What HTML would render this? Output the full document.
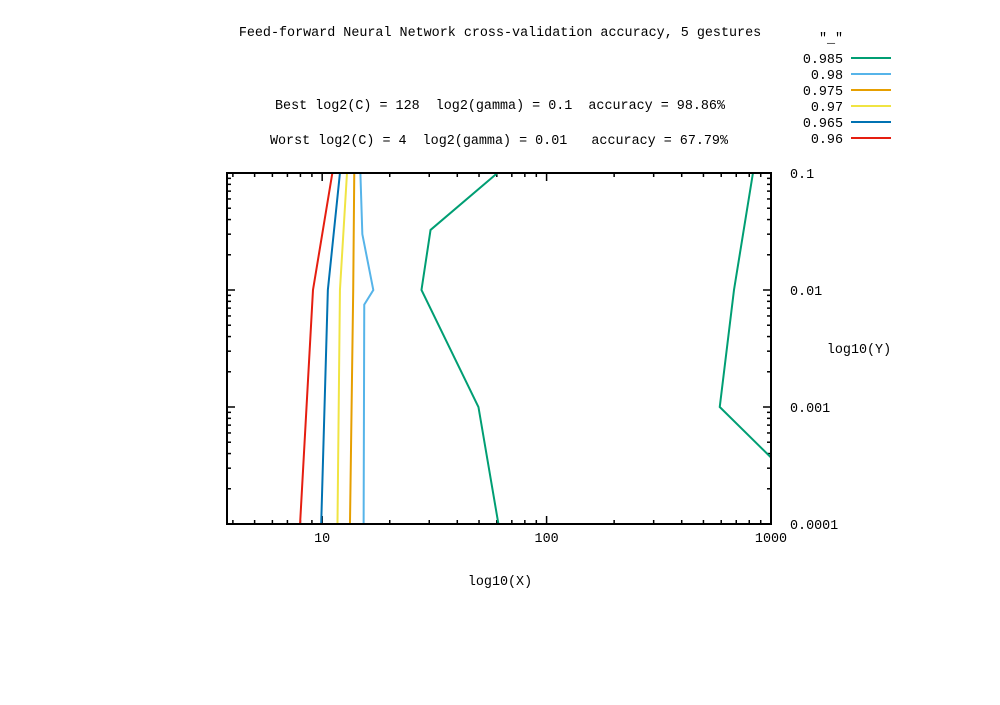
<!DOCTYPE html>
<html><head><meta charset="utf-8"><style>
body{margin:0;background:#fff}
svg text{font-family:"Liberation Mono","DejaVu Sans Mono",monospace;font-size:13.4px;fill:#000}
</style></head><body>
<svg id="chart" width="1000" height="700" xmlns="http://www.w3.org/2000/svg">
<rect width="1000" height="700" fill="#fff"/>
<text x="500" y="36" text-anchor="middle">Feed-forward Neural Network cross-validation accuracy, 5 gestures</text>
<text x="500" y="109" text-anchor="middle" xml:space="preserve">Best log2(C) = 128  log2(gamma) = 0.1  accuracy = 98.86%</text>
<text x="499" y="144" text-anchor="middle" xml:space="preserve">Worst log2(C) = 4  log2(gamma) = 0.01   accuracy = 67.79%</text>
<text x="500" y="585" text-anchor="middle">log10(X)</text>
<text x="859" y="353" text-anchor="middle">log10(Y)</text>
<text x="831" y="42" text-anchor="middle">"_"</text>
<g id="ticks"></g><g id="series"></g><g id="legend"></g>
<rect x="227" y="173" width="544" height="351" fill="none" stroke="#000" stroke-width="2"/>
</svg>
<script>
const levels = ["0.985","0.98","0.975","0.97","0.965","0.96"];
const colors = ["#009e73","#56b4e9","#e69f00","#f0e442","#0072b2","#e51e10"];
const xTicks = [10,100,1000];
const xTickLabels = ["10","100","1000"];
const yTicks = [0.1,0.01,0.001,0.0001];
const yTickLabels = ["0.1","0.01","0.001","0.0001"];
const c985aX = [60.4,30.4,27.7,49.7,61];
const c985aY = [0.1,0.0326,0.01,0.001,0.0001];
const c985bX = [831,684,591,1000];
const c985bY = [0.1,0.01,0.001,0.00037];
const c980X = [14.8,15.1,16.9,15.4,15.3];
const c980Y = [0.1,0.03,0.01,0.0075,0.0001];
const c975X = [13.9,13.75,13.3];
const c975Y = [0.1,0.01,0.0001];
const c970X = [12.9,12.0,11.7];
const c970Y = [0.1,0.01,0.0001];
const c965X = [12.0,10.6,9.9];
const c965Y = [0.1,0.01,0.0001];
const c960X = [11.1,9.1,7.97];
const c960Y = [0.1,0.01,0.0001];
const contours = [[0,c985aX,c985aY],[0,c985bX,c985bY],[1,c980X,c980Y],[2,c975X,c975Y],[3,c970X,c970Y],[4,c965X,c965Y],[5,c960X,c960Y]];

const NS="http://www.w3.org/2000/svg";
const L=227,R=771,T=173,B=524;
const xmin=Math.pow(10,1-95/224), xmax=1000;
function xs(v){return L+(Math.log10(v)-Math.log10(xmin))/(Math.log10(xmax)-Math.log10(xmin))*(R-L);}
function ys(v){return T+(Math.log10(0.1)-Math.log10(v))/(Math.log10(0.1)-Math.log10(0.0001))*(B-T);}
function mk(t,a,p){const e=document.createElementNS(NS,t);for(const k in a)e.setAttribute(k,a[k]);p.appendChild(e);return e;}
const tg=document.getElementById('ticks');
for(let d=0;d<4;d++){for(let m=1;m<10;m++){const v=Math.pow(10,d)*m;if(v<xmin||v>xmax)continue;const x=xs(v);const len=m==1?8:4;
const t1=mk('line',{x1:x,x2:x,y1:B,y2:B-len,stroke:'#000','stroke-width':1.5},tg);


const t2=mk('line',{x1:x,x2:x,y1:T,y2:T+len,stroke:'#000','stroke-width':1.5},tg);

}}
xTicks.forEach((v,i)=>{const t=mk('text',{x:xs(v),y:B+18,'text-anchor':'middle'},tg);t.textContent=xTickLabels[i];

});
for(let d=-4;d<=-1;d++){for(let m=1;m<10;m++){const v=Math.pow(10,d)*m;if(v>0.1+1e-12)continue;const y=ys(v);const len=m==1?8:4;
const t1=mk('line',{x1:L,x2:L+len,y1:y,y2:y,stroke:'#000','stroke-width':1.5},tg);


const t2=mk('line',{x1:R,x2:R-len,y1:y,y2:y,stroke:'#000','stroke-width':1.5},tg);

}}
yTicks.forEach((v,i)=>{const t=mk('text',{x:790,y:ys(v)+5},tg);t.textContent=yTickLabels[i];

});
const sg=document.getElementById('series');
contours.forEach(c=>{const pts=c[1].map((x,i)=>xs(x)+','+ys(c[2][i])).join(' ');
const p=mk('polyline',{points:pts,fill:'none',stroke:colors[c[0]],'stroke-width':2},sg);

});
const lg=document.getElementById('legend');
levels.forEach((lv,i)=>{const y=58+i*16;
const t=mk('text',{x:843,y:y+5,'text-anchor':'end'},lg);t.textContent=lv;


const l=mk('line',{x1:851,x2:891,y1:y,y2:y,stroke:colors[i],'stroke-width':2},lg);

});
</script>
</body></html>
